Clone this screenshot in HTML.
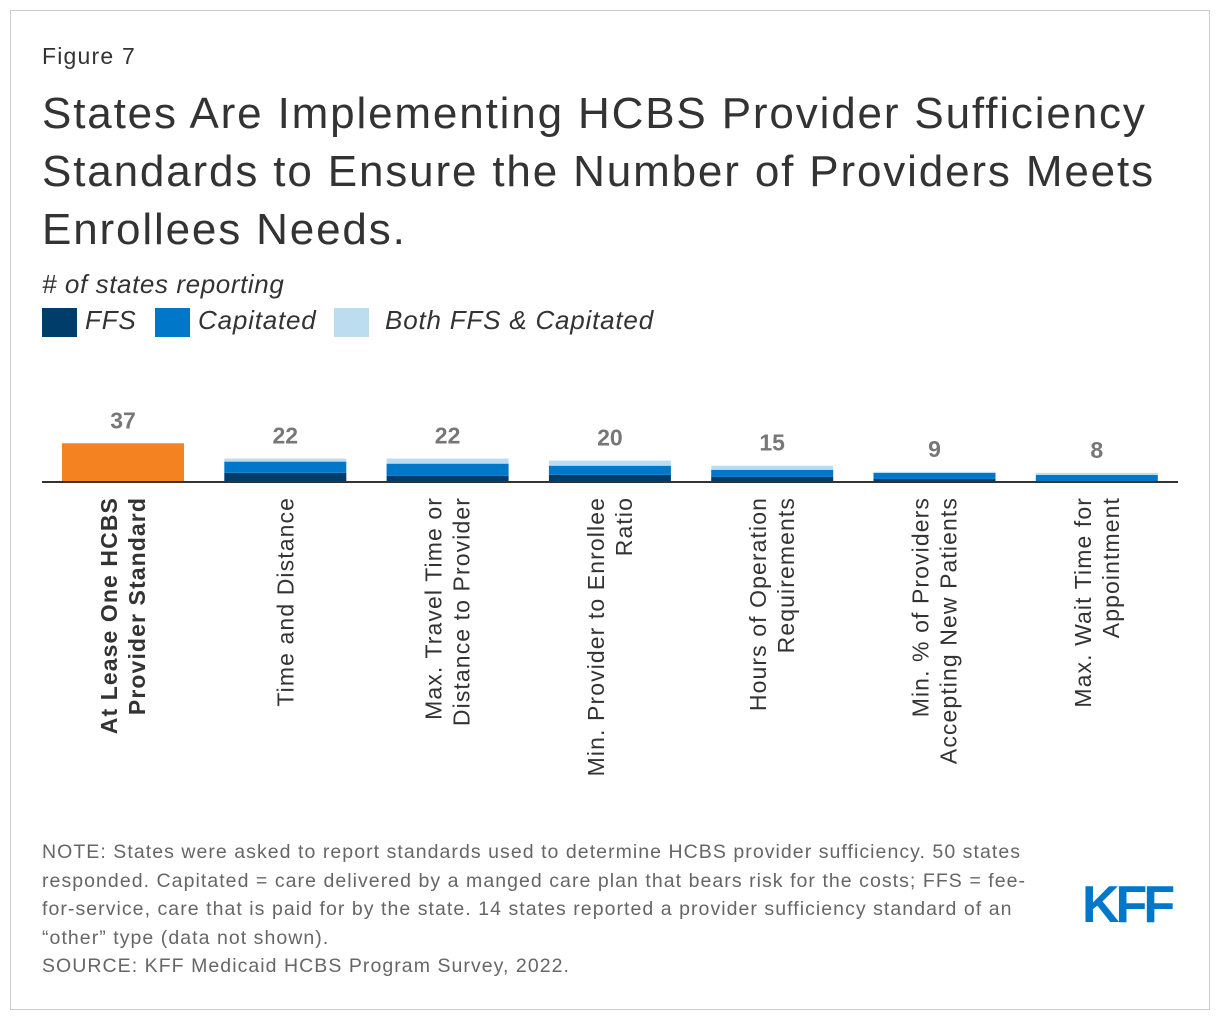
<!DOCTYPE html>
<html><head><meta charset="utf-8"><style>
body{margin:0;width:1220px;height:1020px;background:#fff;font-family:"Liberation Sans",Arial,sans-serif;position:relative;overflow:hidden}
.frame{position:absolute;left:10px;top:10px;width:1198px;height:998px;border:1px solid #ccc}
.abs{position:absolute}
</style></head><body>
<div class="frame"></div>
<div class="abs" style="left:42px;top:43px;font-size:23px;letter-spacing:1.2px;color:#333">Figure 7</div>
<div class="abs" style="left:42px;top:85px;font-size:44px;letter-spacing:1.85px;line-height:58px;color:#333;width:1170px">States Are Implementing HCBS Provider Sufficiency Standards to Ensure the Number of Providers Meets Enrollees Needs.</div>
<div class="abs" style="left:42px;top:269px;font-size:26px;letter-spacing:0.6px;font-style:italic;color:#333"># of states reporting</div>
<div class="abs" style="left:42px;top:305px;font-size:26px;letter-spacing:0.8px;font-style:italic;color:#333;height:32px">
 <span style="position:absolute;left:0;top:0;white-space:nowrap"><span style="display:inline-block;width:35px;height:29px;background:#003d6b;vertical-align:middle"></span> FFS</span>
 <span style="position:absolute;left:113px;top:0;white-space:nowrap"><span style="display:inline-block;width:35px;height:29px;background:#0077c8;vertical-align:middle"></span> Capitated</span>
 <span style="position:absolute;left:292px;top:0;white-space:nowrap"><span style="display:inline-block;width:35px;height:29px;background:#bcdcf0;vertical-align:middle"></span>&nbsp; Both FFS &amp; Capitated</span>
</div>
<svg class="abs" style="left:0;top:0" width="1220" height="820" id="chart"></svg>
<div class="abs" style="left:42px;top:838px;width:1000px;font-size:19.5px;letter-spacing:1.05px;line-height:28.5px;color:#666">NOTE: States were asked to report standards used to determine HCBS provider sufficiency. 50 states responded. Capitated = care delivered by a manged care plan that bears risk for the costs; FFS = fee-for-service, care that is paid for by the state. 14 states reported a provider sufficiency standard of an “other” type (data not shown).<br>SOURCE: KFF Medicaid HCBS Program Survey, 2022.</div>
<div class="abs" style="left:1082px;top:875px;font-size:52px;font-weight:bold;color:#0077c8;letter-spacing:-4px">KFF</div>
<script>
const categories=[["At Lease One HCBS","Provider Standard"],["Time and Distance"],["Max. Travel Time or","Distance to Provider"],["Min. Provider to Enrollee","Ratio"],["Hours of Operation","Requirements"],["Min. % of Providers","Accepting New Patients"],["Max. Wait Time for","Appointment"]];
const totals=[37,22,22,20,15,9,8];
const ffs=[0,8,5,6,4,2,0];
const capitated=[0,11,12,9,7,6,6];
const both=[0,3,5,5,4,1,2];
const svg=document.getElementById('chart');const NS='http://www.w3.org/2000/svg';
const base=481, k=1.02, x0=62, step=162.3, bw=122;
const y=v=>v*k;
function mk(t,a){const e=document.createElementNS(NS,t);for(const n in a)e.setAttribute(n,a[n]);svg.appendChild(e);return e;}
categories.forEach((c,i)=>{
 const x=x0+i*step;
 if(i===0){const r=mk('rect',{x:x,y:base-y(totals[0]),width:bw,height:y(totals[0]),fill:'#f58220'});
  
  }
 else{let cur=base;
  [[ffs[i],'#003d6b','ffs'],[capitated[i],'#0077c8','capitated'],[both[i],'#bcdcf0','both']].forEach(s=>{
   const h=y(s[0]);cur-=h;const r=mk('rect',{x:x,y:cur,width:bw,height:h,fill:s[1]});
   
   });}
 const t=mk('text',{x:x+bw/2,y:base-y(totals[i])-15,'text-anchor':'middle','font-size':23,'font-weight':'bold',fill:'#777'});
 t.textContent=totals[i];
 
 
 const cx=x+bw/2, n=c.length;
 const g=mk('text',{transform:`translate(${cx},497) rotate(-90)`,'text-anchor':'end','font-size':23,'letter-spacing':1.1,fill:'#333','font-weight':i===0?'bold':'normal'});
 
 
 c.forEach((line,j)=>{const ts=document.createElementNS(NS,'tspan');ts.setAttribute('x',0);ts.setAttribute('y',(j-(n-1)/2)*28+8);ts.textContent=line;g.appendChild(ts);});
});
const ax=mk('line',{x1:42,x2:1178,y1:base+1,y2:base+1,stroke:'#333','stroke-width':2});


</script>
</body></html>
